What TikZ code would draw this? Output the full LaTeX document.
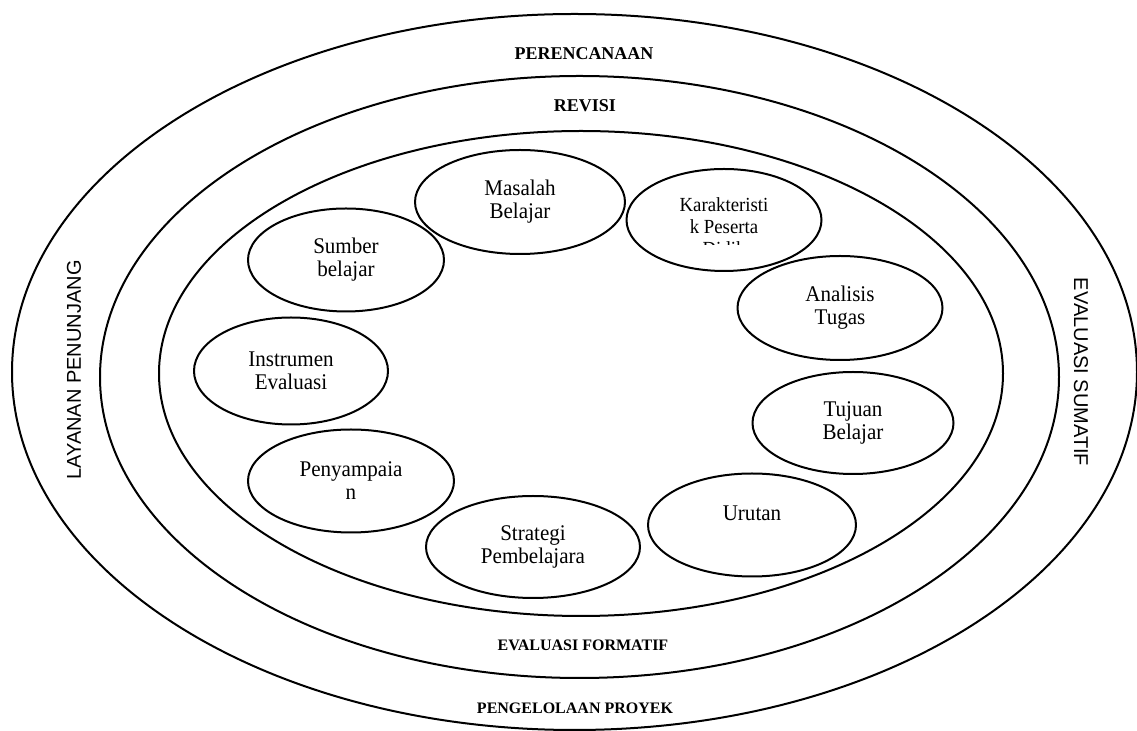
\documentclass[tikz,border=0pt]{standalone}
\usepackage{fontspec}
\setmainfont{Liberation Serif}
\setsansfont{Liberation Sans}
\newfontfamily\tallserif{Liberation Serif}[FakeStretch=0.94]
\usepackage{tikz}
\usetikzlibrary{shapes.geometric}
\tikzset{
  every picture/.style={line join=round, line cap=round},
  ring/.style={line width=1pt},
  blob/.style={ellipse, draw, line width=1pt, inner sep=0pt, align=center,
    font=\tallserif\fontsize{11.2}{11.5}\selectfont},
  layer/.style={font=\fontsize{9}{10}\selectfont\bfseries},
  smalllayer/.style={font=\fontsize{8}{9}\selectfont\bfseries},
  side/.style={font=\sffamily\fontsize{10}{12}\selectfont},
}

\begin{document}
\begin{tikzpicture}[x=0.5pt,y=-0.5pt]
\useasboundingbox (0,0) rectangle (1137,731);
\draw[ring](574.5,372) ellipse [x radius=281.25pt, y radius=179pt];
\draw[ring](579.5,377) ellipse [x radius=239.75pt, y radius=150.5pt];
\draw[ring](581,373.5) ellipse [x radius=211pt, y radius=121.25pt];
\node[layer] (perencanaan) at (584,54) {PERENCANAAN};
\node[layer] (revisi) at (585,106) {REVISI};
\node[smalllayer] (formatif) at (583,645) {EVALUASI FORMATIF};
\node[smalllayer] (proyek) at (575,708) {PENGELOLAAN PROYEK};
\node[side,rotate=90] (layanan) at (74,370) {LAYANAN PENUNJANG};
\node[side,rotate=-90] (sumatif) at (1081,372) {EVALUASI SUMATIF};
\node[blob,minimum width=105pt,minimum height=52pt] (masalah) at (520,202) {Masalah\\Belajar};
\node[blob,minimum width=97.5pt,minimum height=51pt] (karak) at (724,220) {};
\begin{scope}
\clip (630,180) rectangle (820,245);
\node[align=center,font=\tallserif\fontsize{10}{11}\selectfont] (karaktext) at (724,227) {Karakteristi\\k Peserta\\Didik};
\end{scope}
\node[blob,minimum width=98pt,minimum height=51.5pt] (sumber) at (346,260) {Sumber\\belajar};
\node[blob,minimum width=102.5pt,minimum height=52pt] (analisis) at (840,308) {Analisis\\Tugas};
\node[blob,minimum width=97pt,minimum height=53.5pt] (instrumen) at (291,371) {Instrumen\\Evaluasi};
\node[blob,minimum width=100.5pt,minimum height=51pt] (tujuan) at (853,423) {Tujuan\\Belajar};
\node[blob,minimum width=103pt,minimum height=51.5pt] (penyampaian) at (351,481) {Penyampaia\\n};
\node[blob,minimum width=104pt,minimum height=51.5pt] (urutan) at (752,525) {};
\node[font=\tallserif\fontsize{11.2}{11.5}\selectfont] (urutantext) at ([yshift=6pt]urutan.center) {Urutan};
\node[blob,minimum width=107pt,minimum height=51pt] (strategi) at (533,547) {Strategi\\Pembelajara};
\end{tikzpicture}
\end{document}
